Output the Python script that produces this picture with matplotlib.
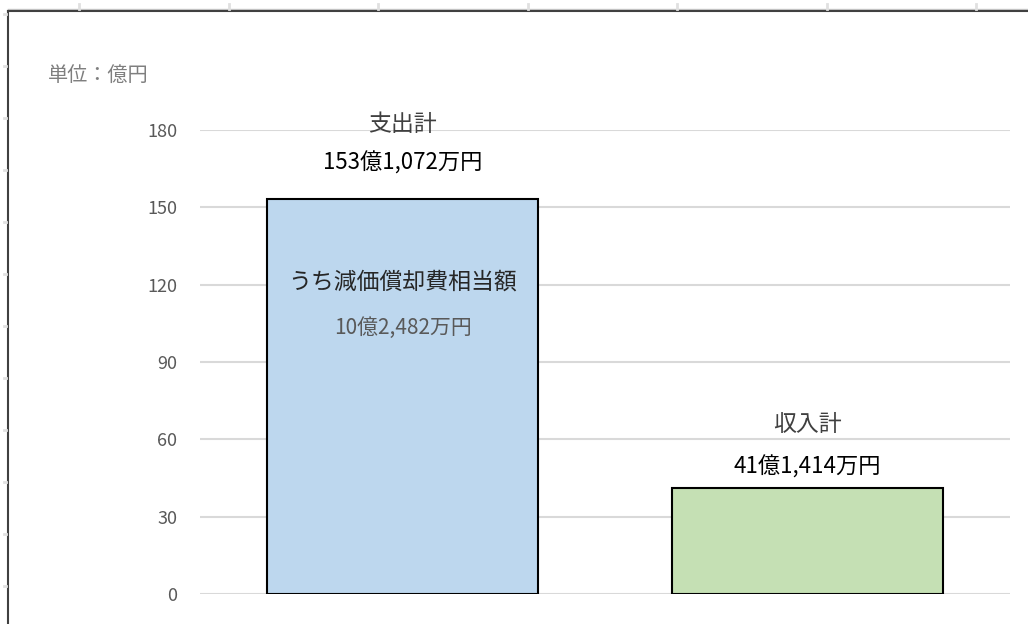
import matplotlib
matplotlib.use("Agg")
import matplotlib.pyplot as plt
from matplotlib.lines import Line2D

plt.rcParams['font.family'] = ['Noto Sans CJK JP', 'DejaVu Sans']

categories = ["支出計", "収入計"]
values = [153.1072, 41.1414]
value_labels = ["153億1,072万円", "41億1,414万円"]
bar_colors = ["#bdd7ee", "#c5e0b4"]
yticks = [0, 30, 60, 90, 120, 150, 180]
unit_label = "単位：億円"
inner_title = "うち減価償却費相当額"
inner_value = "10億2,482万円"

fig = plt.figure(figsize=(10.28, 6.24), dpi=100)
ax = fig.add_axes([200/1028, 1-594/624, 810/1028, (594-130)/624])

x = [0, 1]
ax.bar(x, values, width=0.667, color=bar_colors, edgecolor="black", linewidth=1.5, zorder=3)
ax.set_xlim(-0.5, 1.5)
ax.set_ylim(0, 180)
ax.set_yticks(yticks)
ax.set_yticklabels([str(t) for t in yticks], fontsize=13, color="#595959")
ax.tick_params(axis='y', length=0, pad=16.5)
ax.set_xticks([])
for s in ax.spines.values():
    s.set_visible(False)
ax.yaxis.grid(True, color="#d9d9d9", linewidth=1.5, zorder=0)

# labels
ax.text(0, 182.0, categories[0], ha="center", va="center", fontsize=16.5, color="#404040", clip_on=False)
ax.text(0, 167.2, value_labels[0], ha="center", va="center", fontsize=16, color="black")
ax.text(1, 65.9, categories[1], ha="center", va="center", fontsize=16.5, color="#404040")
ax.text(1, 49.3, value_labels[1], ha="center", va="center", fontsize=16, color="black")
ax.text(0, 121.0, inner_title, ha="center", va="center", fontsize=16.5, color="#262626")
ax.text(0, 103.2, inner_value, ha="center", va="center", fontsize=15, color="#595959")

fig.text(48/1028, 1-75/624, unit_label, ha="left", va="center", fontsize=14.5, color="#7f7f7f")

# chart frame (spreadsheet embedding)
fig.add_artist(Line2D([8/1028, 1.0], [1-9/624, 1-9/624], color="#c8c8c8", linewidth=1.0, transform=fig.transFigure))
fig.add_artist(Line2D([8/1028, 1.0], [1-10.5/624, 1-10.5/624], color="#404040", linewidth=1.5, transform=fig.transFigure))
fig.add_artist(Line2D([8/1028, 8/1028], [1-10.5/624, 0], color="#404040", linewidth=1.5, transform=fig.transFigure))
for k in range(7):
    xx = (79 + 149.5*k)/1028
    fig.add_artist(Line2D([xx, xx], [1-4/624, 1-9/624], color="#e0e0e0", linewidth=2, transform=fig.transFigure))
for k in range(12):
    yy = 1 - (14 + 52*k)/624
    fig.add_artist(Line2D([4/1028, 6/1028], [yy, yy], color="#e0e0e0", linewidth=2, transform=fig.transFigure))

fig.savefig("out.png", dpi=100, facecolor="white")
